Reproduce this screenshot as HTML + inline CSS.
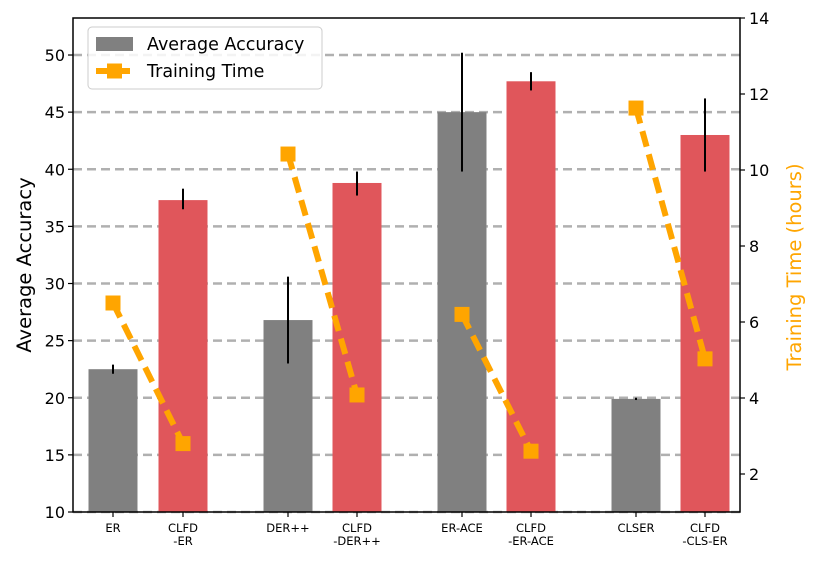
<!DOCTYPE html>
<html><head><meta charset="utf-8"><style>
body{margin:0;background:#fff;}
svg{font-family:"DejaVu Sans","Liberation Sans",sans-serif;}
</style></head><body>
<svg id="c" width="819" height="566" xmlns="http://www.w3.org/2000/svg"></svg>
<script>
const categories = ["ER","CLFD\n-ER","DER++","CLFD\n-DER++","ER-ACE","CLFD\n-ER-ACE","CLSER","CLFD\n-CLS-ER"];
const accuracy = [22.5,37.3,26.8,38.8,45.0,47.7,19.9,43.0];
const errLow = [22.1,36.5,23.0,37.7,39.8,46.9,19.8,39.8];
const errHigh = [22.9,38.3,30.6,39.8,50.2,48.5,20.0,46.2];
const timeHours = [6.5,2.8,10.42,4.08,6.2,2.6,11.63,5.03];
const leftTicks = [10,15,20,25,30,35,40,45,50];
const rightTicks = [2,4,6,8,10,12,14];

const NS="http://www.w3.org/2000/svg";
const svg=document.getElementById('c');
const L=73,R=740,T=18,B=512;
const yL=v=>B-(v-10)*(B-T)/43.24;
const yR=v=>B-(v-1)*(B-T)/13;
const centers=[113,183,288,357,462,531,636,705];
const xC=i=>centers[i];
function el(t,a,p){const e=document.createElementNS(NS,t);for(const k in a)e.setAttribute(k,a[k]);(p||svg).appendChild(e);return e;}

leftTicks.forEach(v=>{
  const g=el('line',{x1:L,x2:R,y1:yL(v),y2:yL(v),stroke:'#b0b0b0','stroke-width':2.5,'stroke-dasharray':'9,5'});
  
  
});
accuracy.forEach((v,i)=>{
  const r=el('rect',{x:xC(i)-24.5,y:yL(v),width:49,height:B-yL(v),fill:i%2?'#e0565b':'#808080'});
  
  
  const e=el('line',{x1:xC(i),x2:xC(i),y1:yL(errLow[i]),y2:yL(errHigh[i]),stroke:'#000','stroke-width':2});
  
  
});
for(let p=0;p<4;p++){
  const a=2*p,b=2*p+1;
  const l=el('line',{x1:xC(a),y1:yR(timeHours[a]),x2:xC(b),y2:yR(timeHours[b]),stroke:'#ffa500','stroke-width':6,'stroke-dasharray':'16,8'});
  
  
  [a,b].forEach(i=>{
    const m=el('rect',{x:xC(i)-7.5,y:yR(timeHours[i])-7.5,width:15,height:15,fill:'#ffa500'});
    
    
  });
}
const fr=el('rect',{x:L,y:T,width:R-L,height:B-T,fill:'none',stroke:'#000','stroke-width':1.5});


leftTicks.forEach(v=>{
  el('line',{x1:L-5,x2:L,y1:yL(v),y2:yL(v),stroke:'#000','stroke-width':1.2});
  const t=el('text',{x:L-8,y:yL(v)+6,'text-anchor':'end','font-size':16});
  t.textContent=v;
  
  
});
rightTicks.forEach(v=>{
  el('line',{x1:R,x2:R+5,y1:yR(v),y2:yR(v),stroke:'#000','stroke-width':1.2});
  const t=el('text',{x:R+9,y:yR(v)+6,'font-size':16});
  t.textContent=v;
  
  
});
categories.forEach((c,i)=>{
  el('line',{x1:xC(i),x2:xC(i),y1:B,y2:B+5,stroke:'#000','stroke-width':1.2});
  const lines=c.split('\n');
  lines.forEach((s,k)=>{
    const t=el('text',{x:xC(i),y:B+20+k*13,'text-anchor':'middle','font-size':11.5});
    t.textContent=s;
    
    
  });
});
const yt=el('text',{x:0,y:0,transform:'translate(31,265) rotate(-90)','text-anchor':'middle','font-size':19.5});
yt.textContent='Average Accuracy';


const yt2=el('text',{x:0,y:0,transform:'translate(801,267) rotate(-90)','text-anchor':'middle','font-size':19.5,fill:'#ffa500'});
yt2.textContent='Training Time (hours)';


const lg=el('g',{});


el('rect',{x:88,y:27,width:234,height:62,rx:4,fill:'#fff','fill-opacity':0.85,stroke:'#ccc'},lg);
el('rect',{x:96,y:37,width:37,height:14,fill:'#808080'},lg);
const t1=el('text',{x:147,y:50,'font-size':17.5},lg);t1.textContent='Average Accuracy';


el('line',{x1:96,x2:133,y1:71,y2:71,stroke:'#ffa500','stroke-width':6,'stroke-dasharray':'14,6'},lg);
el('rect',{x:107,y:63.5,width:15,height:15,fill:'#ffa500'},lg);
const t2=el('text',{x:147,y:77,'font-size':17.5},lg);t2.textContent='Training Time';


</script>
</body></html>
